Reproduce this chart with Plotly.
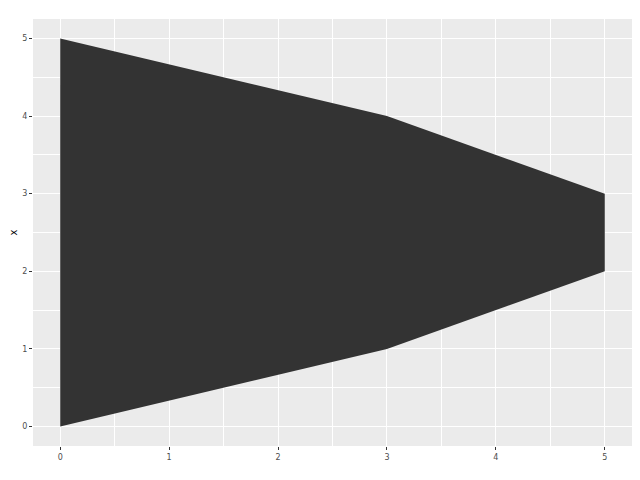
import plotly.graph_objects as go

# ribbon data
x = [0, 3, 5]
ymin = [0, 1, 2]
ymax = [5, 4, 3]

tick_vals = [0, 1, 2, 3, 4, 5]
tick_text = ["0", "1", "2", "3", "4", "5"]

fig = go.Figure()

# closed polygon: upper edge forward, lower edge back
fig.add_trace(go.Scatter(
    x=x + x[::-1],
    y=ymax + ymin[::-1],
    fill="toself",
    fillcolor="#333333",
    mode="lines",
    line=dict(width=0, color="#333333"),
    hoverinfo="skip",
    showlegend=False,
))

axis_common = dict(
    tickmode="array",
    tickvals=tick_vals,
    ticktext=tick_text,
    ticks="outside",
    ticklen=3,
    tickwidth=1,
    tickcolor="#333333",
    tickfont=dict(family="DejaVu Sans", size=8, color="#4d4d4d"),
    showgrid=True,
    gridcolor="white",
    gridwidth=1.1,
    minor=dict(dtick=0.5, showgrid=True, gridcolor="white", gridwidth=0.5, ticks=""),
    zeroline=False,
    showline=False,
    automargin=False,
)

fig.update_xaxes(range=[-0.25, 5.25], **axis_common)
fig.update_yaxes(
    range=[-0.25, 5.25],
    title=dict(text="x", font=dict(family="DejaVu Sans", size=10, color="black"), standoff=11),
    **axis_common,
)

# page body adds ~8px margin, so size the figure to land the panel where it should
fig.update_layout(
    width=624,
    height=464,
    margin=dict(l=25, r=0, t=11, b=26),
    plot_bgcolor="#ebebeb",
    paper_bgcolor="white",
)

fig.write_html("out.html")
